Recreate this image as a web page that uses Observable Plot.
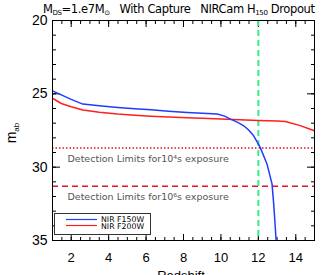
<!DOCTYPE html>
<html><head><meta charset="utf-8">
<script src="https://cdn.jsdelivr.net/npm/d3@7"></script>
<script src="https://cdn.jsdelivr.net/npm/@observablehq/plot@0.6"></script>
<style>body{margin:0;background:#fff;} svg{font-family:"Liberation Sans",Arial,sans-serif;}</style>
</head><body><div id="chart"></div>
<script>
// Data
const blueX = [1, 1.47, 2, 2.62, 3.5, 4.48, 5.4, 6.26, 7.2, 8.2, 9.0, 9.8, 10.2, 10.51, 10.9, 11.22, 11.48, 11.75, 12.1, 12.46, 12.73, 12.82, 12.95];
const blueY = [24.8, 25.07, 25.38, 25.7, 25.82, 25.93, 26.01, 26.09, 26.18, 26.27, 26.32, 26.38, 26.52, 26.72, 26.95, 27.18, 27.47, 27.86, 28.65, 29.78, 31.14, 32.5, 35.0];
const redX = [1, 1.47, 2, 2.62, 3.5, 4.48, 5.4, 6.26, 7.2, 8.2, 9.0, 10.0, 11.0, 12.0, 13.0, 13.44, 14.2, 15];
const redY = [25.3, 25.66, 25.88, 26.1, 26.26, 26.38, 26.46, 26.52, 26.58, 26.63, 26.66, 26.72, 26.77, 26.82, 26.86, 26.88, 27.15, 27.52];
const seriesNames = ["NIR F150W", "NIR F200W"];
const limitY = [28.7, 31.3];
const limitLabels = ["Detection Limits for10\u2074s exposure", "Detection Limits for10\u2076s exposure"];
const dropoutZ = [12];
const xMajor = [2, 4, 6, 8, 10, 12, 14];
const xMinor = d3.range(1, 15.01, 0.5);
const yMajor = [20, 25, 30, 35];
const yMinor = d3.range(20, 35.01, 1);

const blue = blueX.map((x, i) => ({x, y: blueY[i]}));
const red = redX.map((x, i) => ({x, y: redY[i]}));
const blueC = "#1f3cff", redC = "#ff1f1f";
const none = () => "";

const plot = Plot.plot({
  width: 330, height: 275,
  marginLeft: 52, marginRight: 16, marginTop: 20, marginBottom: 35,
  style: {fontFamily: "Liberation Sans, Arial, sans-serif", fontSize: "12px", background: "#fff", color: "#000"},
  x: {domain: [1, 15]},
  y: {domain: [20, 35], reverse: true},
  marks: [
    Plot.axisX({anchor: "bottom", ticks: xMajor, tickSize: 0, tickPadding: 12, fontSize: 13, label: null}),
    Plot.axisX({anchor: "bottom", ticks: xMajor, tickSize: -6, tickFormat: none, label: null}),
    Plot.axisX({anchor: "bottom", ticks: xMinor, tickSize: -3, tickFormat: none, label: null}),
    Plot.axisX({anchor: "top", ticks: xMajor, tickSize: -6, tickFormat: none, label: null}),
    Plot.axisX({anchor: "top", ticks: xMinor, tickSize: -3, tickFormat: none, label: null}),
    Plot.axisY({anchor: "left", ticks: yMajor, tickSize: 0, tickPadding: 5, fontSize: 14, label: null}),
    Plot.axisY({anchor: "left", ticks: yMajor, tickSize: -8, tickFormat: none, label: null}),
    Plot.axisY({anchor: "left", ticks: yMinor, tickSize: -4, tickFormat: none, label: null}),
    Plot.axisY({anchor: "right", ticks: yMajor, tickSize: -8, tickFormat: none, label: null}),
    Plot.axisY({anchor: "right", ticks: yMinor, tickSize: -4, tickFormat: none, label: null}),
    Plot.ruleY([limitY[0]], {stroke: "#e8102a", strokeWidth: 1.5, strokeDasharray: "1.5,2"}),
    Plot.ruleY([limitY[1]], {stroke: "#e8102a", strokeWidth: 1.5, strokeDasharray: "6,4"}),
    Plot.ruleX(dropoutZ, {stroke: "#33ee88", strokeWidth: 2, strokeDasharray: "6,4"}),
    Plot.text(limitLabels, {x: 1.8, y: (d, i) => limitY[i] + 0.72, text: d => d, textAnchor: "start", fill: "#555", fontSize: 9.5, fontFamily: "DejaVu Sans"}),
    Plot.line(red, {x: "x", y: "y", stroke: redC, strokeWidth: 1.5, clip: true}),
    Plot.line(blue, {x: "x", y: "y", stroke: blueC, strokeWidth: 1.5, clip: true}),
    Plot.frame({stroke: "#000"})
  ]
});
document.getElementById("chart").appendChild(plot);

const svg = d3.select(plot);
// x label
svg.append("text").attr("x", 181).attr("y", 280).attr("text-anchor", "middle").attr("font-size", 13).text("Redshift");
// Title with subscripts
const t = svg.append("text").attr("x", 43).attr("y", 13).attr("text-anchor", "start").attr("font-size", 11.5).attr("font-family", "DejaVu Sans").attr("fill", "#000").attr("textLength", 272).attr("lengthAdjust", "spacing");
t.append("tspan").text("M");
t.append("tspan").attr("font-size", 7).attr("dy", 2).text("DS");
t.append("tspan").attr("dy", -2).text("=1.e7M");
t.append("tspan").attr("font-size", 7).attr("dy", 2).text("\u2299");
t.append("tspan").attr("dy", -2).text("\u00a0\u00a0\u00a0With Capture\u00a0\u00a0\u00a0NIRCam H");
t.append("tspan").attr("font-size", 7).attr("dy", 2).text("150");
t.append("tspan").attr("dy", -2).text(" Dropout");
// y label m_ab
const yl = svg.append("text").attr("transform", "translate(16,133) rotate(-90)").attr("text-anchor", "middle").attr("font-size", 14);
yl.append("tspan").text("m");
yl.append("tspan").attr("font-size", 8).attr("dy", 3).text("ab");
// legend
const lg = svg.append("g").attr("text-anchor", "start");
lg.append("rect").attr("x", 54.5).attr("y", 213.5).attr("width", 96).attr("height", 21).attr("fill", "#fff").attr("stroke", "#333");
[blueC, redC].forEach((c, i) => {
  lg.append("line").attr("x1", 66).attr("x2", 97).attr("y1", 219.5 + i * 6).attr("y2", 219.5 + i * 6).attr("stroke", c).attr("stroke-width", 1.2);
  lg.append("text").attr("x", 101).attr("y", 221.5 + i * 7).attr("font-size", 7.8).attr("font-family", "DejaVu Sans").text(seriesNames[i]);
});
</script></body></html>
